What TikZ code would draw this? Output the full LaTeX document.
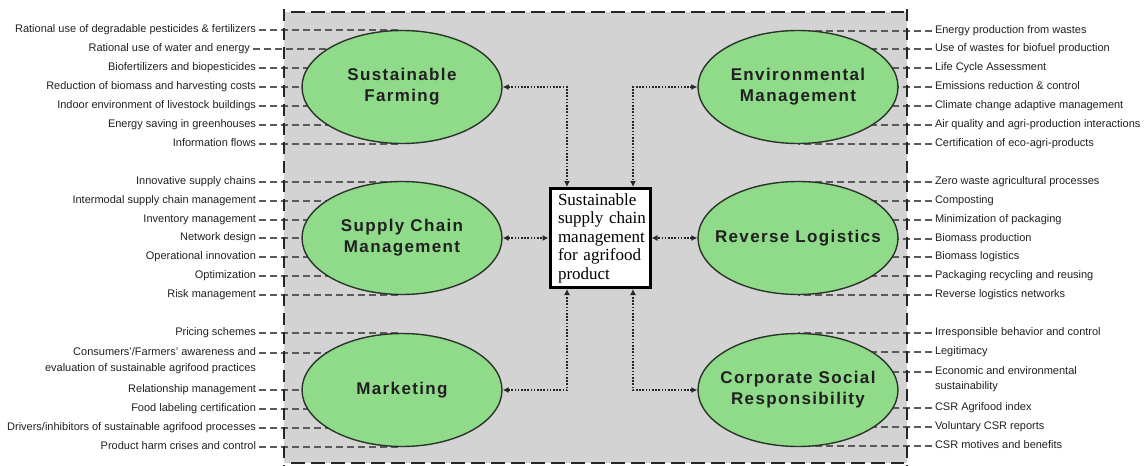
\documentclass[tikz,border=0pt]{standalone}
\usepackage{fontspec}
\setmainfont{Liberation Sans}
\newfontfamily\titlefont[LetterSpace=8]{Liberation Sans}
\newfontfamily\boxfont{Liberation Serif}
\usetikzlibrary{arrows.meta,shapes.geometric}
\definecolor{bggrey}{HTML}{D3D3D3}
\definecolor{ellgreen}{HTML}{8FDB8A}
\definecolor{ellline}{HTML}{2A352A}
\definecolor{leadgrey}{HTML}{5A5A5A}
\definecolor{txt}{HTML}{202020}
\newcommand{\tline}[1]{\makebox[0pt][c]{#1}}
\begin{document}
\begin{tikzpicture}[x=1pt,y=-1pt,
 lblL/.style={anchor=east,inner sep=0pt,outer sep=3pt,font=\fontsize{11}{12}\selectfont,text=txt,text height=8pt,text depth=2.5pt},
 lblR/.style={lblL,anchor=west},
 lead/.style={draw=leadgrey,line width=1.1pt,dash pattern=on 7pt off 4pt},
 topic/.style={ellipse,draw=ellline,line width=1.4pt,fill=ellgreen,minimum width=200pt,minimum height=113pt,inner sep=0pt,align=center,font=\titlefont\bfseries\fontsize{17}{21}\selectfont,text=txt},
 hub/.style={fill=white,minimum width=100pt,minimum height=99pt,inner xsep=8pt,inner ysep=0pt,outer sep=1.5pt,text width=84pt,align=left,font=\boxfont\fontsize{17}{18.5}\selectfont},
 link/.style={draw=black!85,line width=1.6pt,dash pattern=on 1.6pt off 1.6pt,{Latex[length=6pt,width=6pt]}-{Latex[length=6pt,width=6pt]}},
 frameH/.style={line width=2.6pt,dash pattern=on 14pt off 6pt,draw=black!85},
 frameV/.style={line width=2pt,dash pattern=on 12pt off 7pt,draw=black!85}
]
\useasboundingbox (0,0) rectangle (1144,466);
\fill[bggrey] (284,12) rectangle (907,463);
\coordinate (sfc) at (402,87);
\coordinate (scmc) at (402,238);
\coordinate (mkc) at (402,390);
\coordinate (emc) at (798,87);
\coordinate (rlc) at (798,238);
\coordinate (csrc) at (798,390);
% left leads
\foreach \n/\x/\y/\t in {
 a1/259/30/{Rational use of degradable pesticides \& fertilizers},
 a2/253/49/{Rational use of water and energy},
 a3/259/68/{Biofertilizers and biopesticides},
 a4/259/87/{Reduction of biomass and harvesting costs},
 a5/259/106/{Indoor environment of livestock buildings},
 a6/259/125/{Energy saving in greenhouses},
 a7/259/144/{Information flows}}
 {\node[lblL] (\n) at (\x,\y) {\t}; \draw[lead] (\n.east) -- (\n.east -| sfc);}
\foreach \n/\y/\t in {
 b1/182/{Innovative supply chains},
 b2/201/{Intermodal supply chain management},
 b3/220/{Inventory management},
 b4/238/{Network design},
 b5/257/{Operational innovation},
 b6/276/{Optimization},
 b7/295/{Risk management}}
 {\node[lblL] (\n) at (259,\y) {\t}; \draw[lead] (\n.east) -- (\n.east -| scmc);}
\foreach \n/\y/\t in {
 c1/333/{Pricing schemes},
 c2/353/{Consumers'/Farmers' awareness and},
 c3/390/{Relationship management},
 c4/409/{Food labeling certification},
 c5/428/{Drivers/inhibitors of sustainable agrifood processes},
 c6/447/{Product harm crises and control}}
 {\node[lblL] (\n) at (259,\y) {\t}; \draw[lead] (\n.east) -- (\n.east -| mkc);}
\node[lblL] (c2b) at (259,369) {evaluation of sustainable agrifood practices};
% right leads
\foreach \n/\y/\t in {
 d1/31/{Energy production from wastes},
 d2/49/{Use of wastes for biofuel production},
 d3/68/{Life Cycle Assessment},
 d4/87/{Emissions reduction \& control},
 d5/106/{Climate change adaptive management},
 d6/125/{Air quality and agri-production interactions},
 d7/144/{Certification of eco-agri-products}}
 {\node[lblR] (\n) at (932,\y) {\t}; \draw[lead] (\n.west) -- (\n.west -| emc);}
\foreach \n/\y/\t in {
 e1/182/{Zero waste agricultural processes},
 e2/201/{Composting},
 e3/220/{Minimization of packaging},
 e4/239/{Biomass production},
 e5/257/{Biomass logistics},
 e6/276/{Packaging recycling and reusing},
 e7/295/{Reverse logistics networks}}
 {\node[lblR] (\n) at (932,\y) {\t}; \draw[lead] (\n.west) -- (\n.west -| rlc);}
\foreach \n/\y/\t in {
 f1/333/{Irresponsible behavior and control},
 f2/352/{Legitimacy},
 f3/372/{Economic and environmental},
 f4/408/{CSR Agrifood index},
 f5/427/{Voluntary CSR reports},
 f6/446/{CSR motives and benefits}}
 {\node[lblR] (\n) at (932,\y) {\t}; \draw[lead] (\n.west) -- (\n.west -| csrc);}
\node[lblR] (f3b) at (932,387) {sustainability};
% frame
\draw[frameV] (284,9) -- (284,466);
\draw[frameV] (907,9) -- (907,466);
\draw[frameH] (291,12) -- (904,12);
\draw[frameH] (291,463) -- (904,463);
% topics
\node[topic] (sf) at (sfc) {\tline{Sustainable}\\\tline{Farming}};
\node[topic] (scm) at (scmc) {\tline{Supply Chain}\\\tline{Management}};
\node[topic] (mk) at (mkc) {\tline{Marketing}};
\node[topic] (em) at (emc) {\tline{Environmental}\\\tline{Management}};
\node[topic] (rl) at (rlc) {\tline{Reverse Logistics}};
\node[topic] (csr) at (csrc) {\tline{Corporate Social}\\\tline{Responsibility}};
% hub
\node[hub] (hub) at (600,238) {\mbox{Sustainable}\\\mbox{supply chain}\\\mbox{management}\\\mbox{for agrifood}\\\mbox{product}};
\draw[line width=3pt] (550,188.5) rectangle (650,287.5);
\coordinate (bt1) at ([xshift=-33pt]hub.north);
\coordinate (bt2) at ([xshift=33pt]hub.north);
\coordinate (bb1) at ([xshift=-33pt]hub.south);
\coordinate (bb2) at ([xshift=33pt]hub.south);
\draw[link] (sf.east) -| (bt1);
\draw[link] (em.west) -| (bt2);
\draw[link] (scm.east) -- (hub.west);
\draw[link] (rl.west) -- (hub.east);
\draw[link] (mk.east) -| (bb1);
\draw[link] (csr.west) -| (bb2);
\end{tikzpicture}
\end{document}
